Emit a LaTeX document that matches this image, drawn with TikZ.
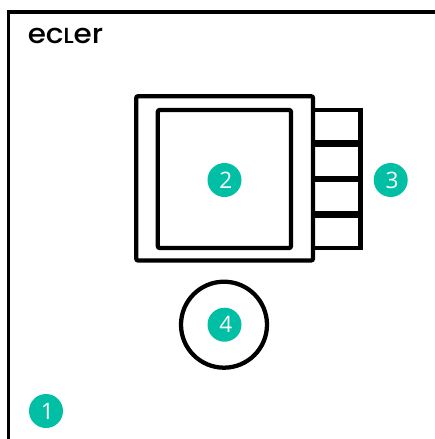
\documentclass[tikz,border=0pt]{standalone}
\usepackage{fontspec}
\setmainfont{Open Sans}
\newfontfamily\logofont{Poppins Medium}
\definecolor{badgegreen}{HTML}{00BFA5}
\tikzset{
  badge/.style={circle,fill=badgegreen,text=white,minimum size=25.5pt,inner sep=0pt,font=\fontsize{17}{18}\selectfont,execute at begin node={\kern2pt}},
  heavy/.style={draw=black,line width=3.2pt},
  roundbox/.style={heavy,rounded corners=1.5pt},
  bar/.style={draw=black,line width=5.2pt},
}
\begin{document}
\begin{tikzpicture}[x=0.75pt,y=-0.75pt]
\useasboundingbox (0,0) rectangle (435,439);
\fill[white] (0,0) rectangle (435,439);
\draw[heavy,line width=2.8pt,line cap=butt] (8.5,439) -- (8.5,12.2) -- (435,12.2);
\node[anchor=west,inner sep=0pt] (logo) at (27.5,35.8) {\scalebox{1.08}[1]{\logofont\fontsize{20.5}{20.5}\selectfont ec\kern-0.2pt\scalebox{0.8}{L}\kern-0.2pt er}};
\draw[heavy,line join=miter] (313,110) rectangle (360.5,248);
\draw[bar] (313,143.5) -- (360.5,143.5);
\draw[bar] (313,179) -- (360.5,179);
\draw[bar] (313,214.5) -- (360.5,214.5);
\draw[roundbox] (136.2,96.2) rectangle (313,260.5);
\draw[roundbox] (157.8,110) rectangle (291,248);
\draw[draw=black,line width=3.2pt] (224,324.7) circle (43);
\node[badge] (n2) at (224.5,180) {2};
\node[badge] (n3) at (390.7,180) {3};
\node[badge] (n4) at (224.5,324.7) {4};
\node[badge] (n1) at (46,411) {1};
\end{tikzpicture}
\end{document}
